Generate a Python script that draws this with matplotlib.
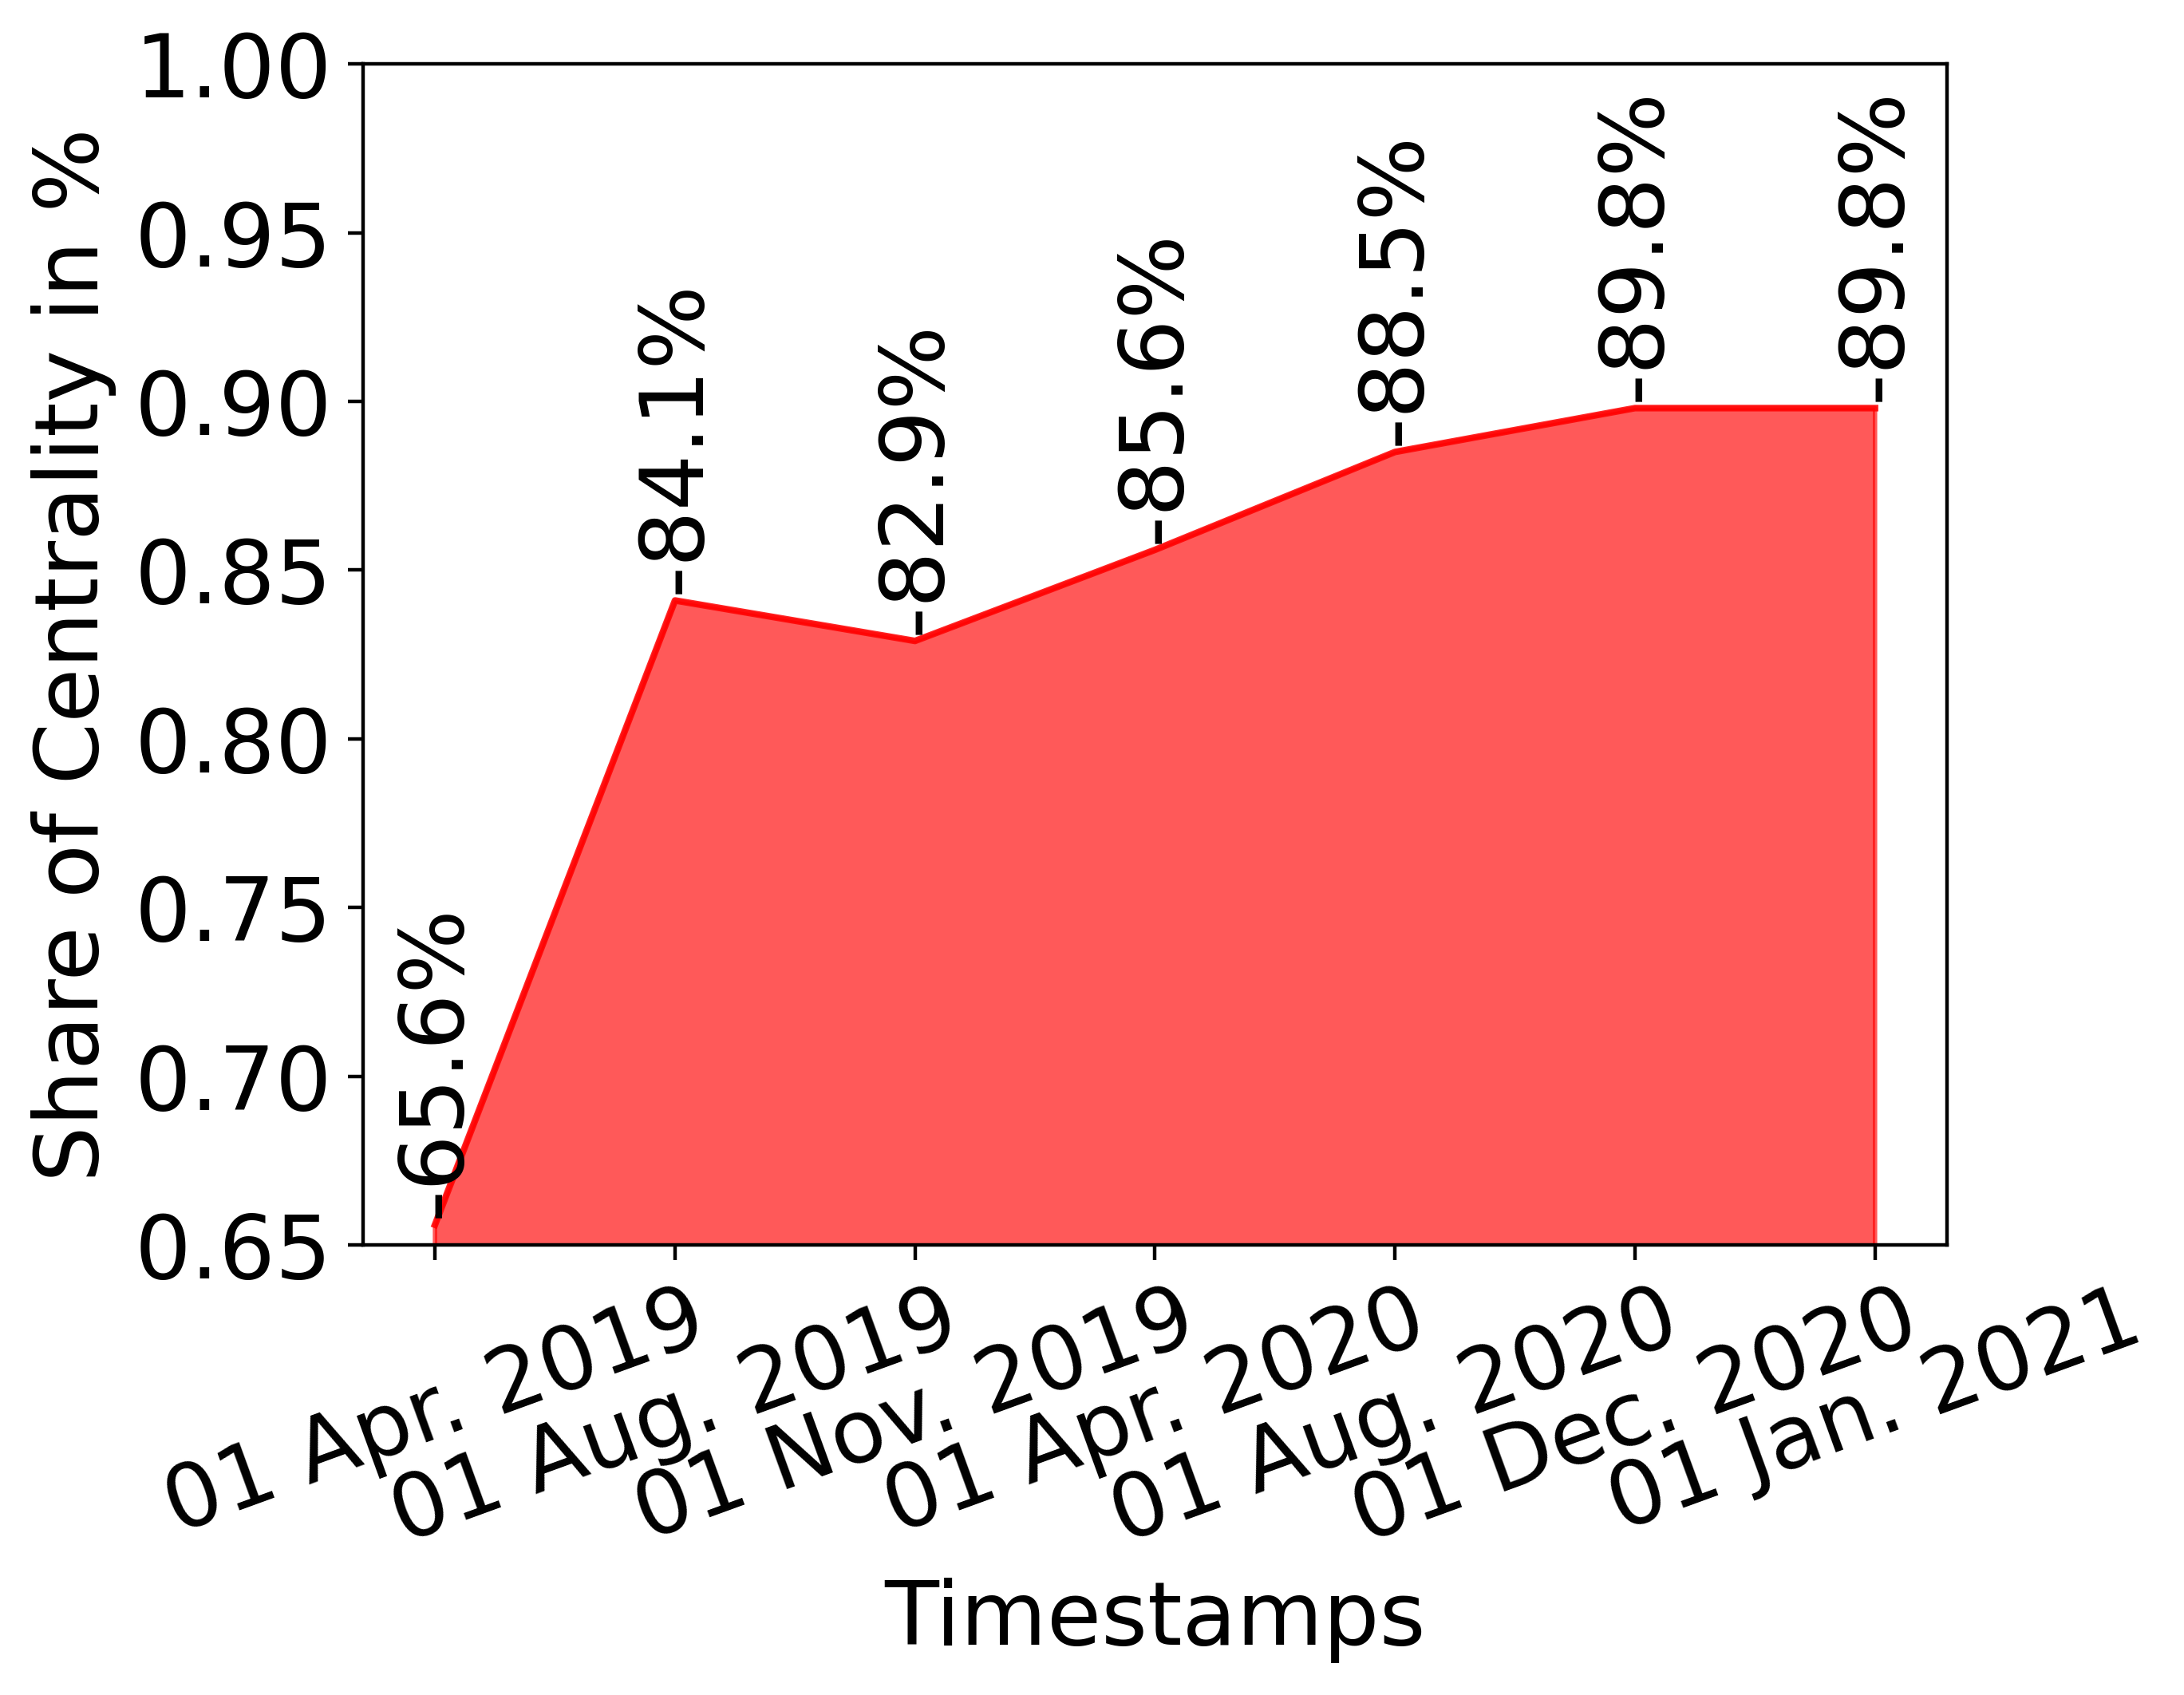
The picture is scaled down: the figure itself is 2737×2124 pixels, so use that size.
import matplotlib
matplotlib.use('Agg')
import matplotlib.pyplot as plt
import numpy as np

plt.rcParams.update({'font.size': 20})

timestamps = ["01 Apr. 2019", "01 Aug. 2019", "01 Nov. 2019", "01 Apr. 2020",
              "01 Aug. 2020", "01 Dec. 2020", "01 Jan. 2021"]
share = [0.656, 0.841, 0.829, 0.856, 0.885, 0.898, 0.898]

fig = plt.figure(figsize=(6.8425, 5.31), dpi=400)
ax = fig.add_axes([0.1662, 0.2655, 0.8915 - 0.1662, 0.9623 - 0.2655])

x = np.arange(len(timestamps))
ax.fill_between(x, share, color='red', alpha=0.65)
ax.plot(x, share, color='red', alpha=0.85, linewidth=1.5)

#labels on top of each point
for xi, val in zip(x, share):
    ax.annotate("-{:.1f}%".format(val * 100), (xi, val), xytext=(0, 1.5),
                textcoords='offset points', rotation=90,
                ha='center', va='bottom')

ax.set_ylim(0.65, 1.0)
ax.set_yticks(np.arange(0.65, 1.001, 0.05))
ax.set_xticks(x)
ax.set_xticklabels(timestamps, rotation=20)
ax.set_xlabel("Timestamps")
ax.set_ylabel("Share of Centrality in %")

plt.savefig('out.png', dpi=400)
